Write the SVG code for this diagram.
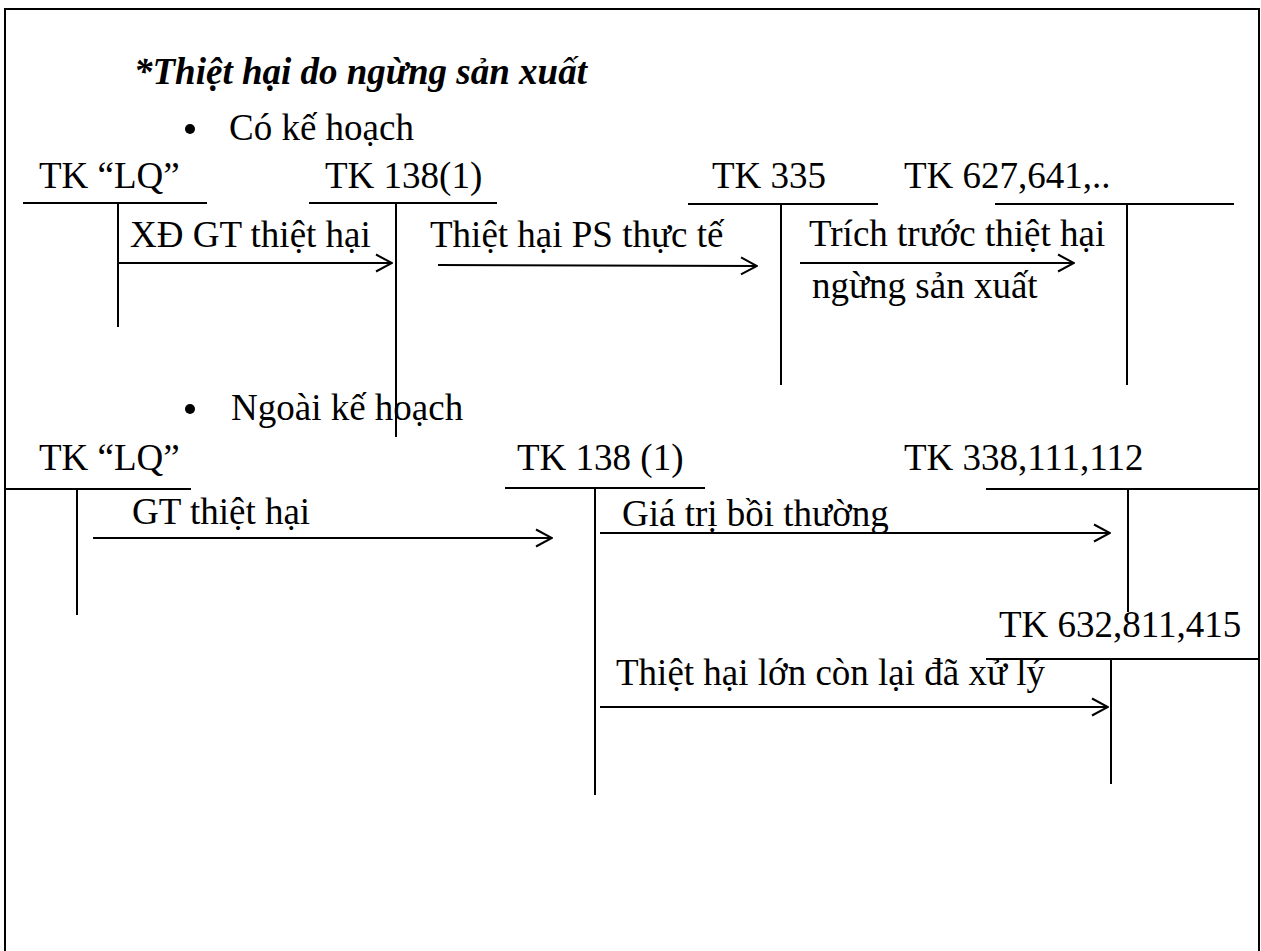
<svg xmlns="http://www.w3.org/2000/svg" width="1261" height="951" viewBox="0 0 1261 951">
<style>
text{font-family:"Liberation Serif","Times New Roman",serif;font-size:37px;fill:#000}
.title{font-weight:bold;font-style:italic}
.ln{stroke:#000;stroke-width:2;fill:none}
.arr{stroke:#000;stroke-width:2;fill:none;marker-end:url(#ah)}
</style>
<defs>
<marker id="ah" viewBox="0 0 18 20" refX="17" refY="10" markerWidth="18" markerHeight="20" markerUnits="userSpaceOnUse" orient="auto">
<path d="M1,1.5 L17,10 L1,18.5" fill="none" stroke="#000" stroke-width="2"/>
</marker>
</defs>
<rect width="1261" height="951" fill="#fff"/>
<path class="ln" d="M5,951 V9 H1259 V951"/>
<g id="headings">
<text class="title" x="134" y="84">*Thiệt hại do ngừng sản xuất</text>
<circle cx="190" cy="129" r="5"/>
<text x="229" y="140">Có kế hoạch</text>
<circle cx="190" cy="409" r="5"/>
<text x="231" y="420">Ngoài kế hoạch</text>
</g>
<g id="tk-lq-1">
<text x="39" y="188">TK “LQ”</text>
<path class="ln" d="M23,203 H207 M118,203 V327"/>
</g>
<g id="tk-1381-1">
<text x="325" y="188">TK 138(1)</text>
<path class="ln" d="M309,203 H497 M396,203 V437"/>
</g>
<g id="tk-335">
<text x="712" y="188">TK 335</text>
<path class="ln" d="M688,204 H878 M781,204 V385"/>
</g>
<g id="tk-627">
<text x="904" y="188">TK 627,641,..</text>
<path class="ln" d="M995,204 H1234 M1127,204 V385"/>
</g>
<g id="tk-lq-2">
<text x="39" y="470">TK “LQ”</text>
<path class="ln" d="M5,489 H191 M77,489 V615"/>
</g>
<g id="tk-1381-2">
<text x="517" y="470">TK 138 (1)</text>
<path class="ln" d="M505,488 H705 M595,488 V795"/>
</g>
<g id="tk-338">
<text x="904" y="470">TK 338,111,112</text>
<path class="ln" d="M986,489 H1259 M1128,489 V612"/>
</g>
<g id="tk-632">
<text x="999" y="637">TK 632,811,415</text>
<path class="ln" d="M986,659 H1259 M1111,659 V784"/>
</g>
<g id="connectors">
<line class="arr" x1="118" y1="263" x2="392" y2="263"/>
<text x="130" y="247">XĐ GT thiệt hại</text>
<line class="arr" x1="438" y1="265" x2="757" y2="266"/>
<text x="430" y="247">Thiệt hại PS thực tế</text>
<line class="arr" x1="800" y1="263" x2="1074" y2="263"/>
<text x="809" y="246">Trích trước thiệt hại</text>
<text x="812" y="298">ngừng sản xuất</text>
<line class="arr" x1="93" y1="538" x2="552" y2="538"/>
<text x="132" y="524">GT thiệt hại</text>
<line class="arr" x1="600" y1="533" x2="1110" y2="533"/>
<text x="622" y="526">Giá trị bồi thường</text>
<line class="arr" x1="600" y1="707" x2="1108" y2="707"/>
<text x="616" y="685">Thiệt hại lớn còn lại đã xử lý</text>
</g>
</svg>
